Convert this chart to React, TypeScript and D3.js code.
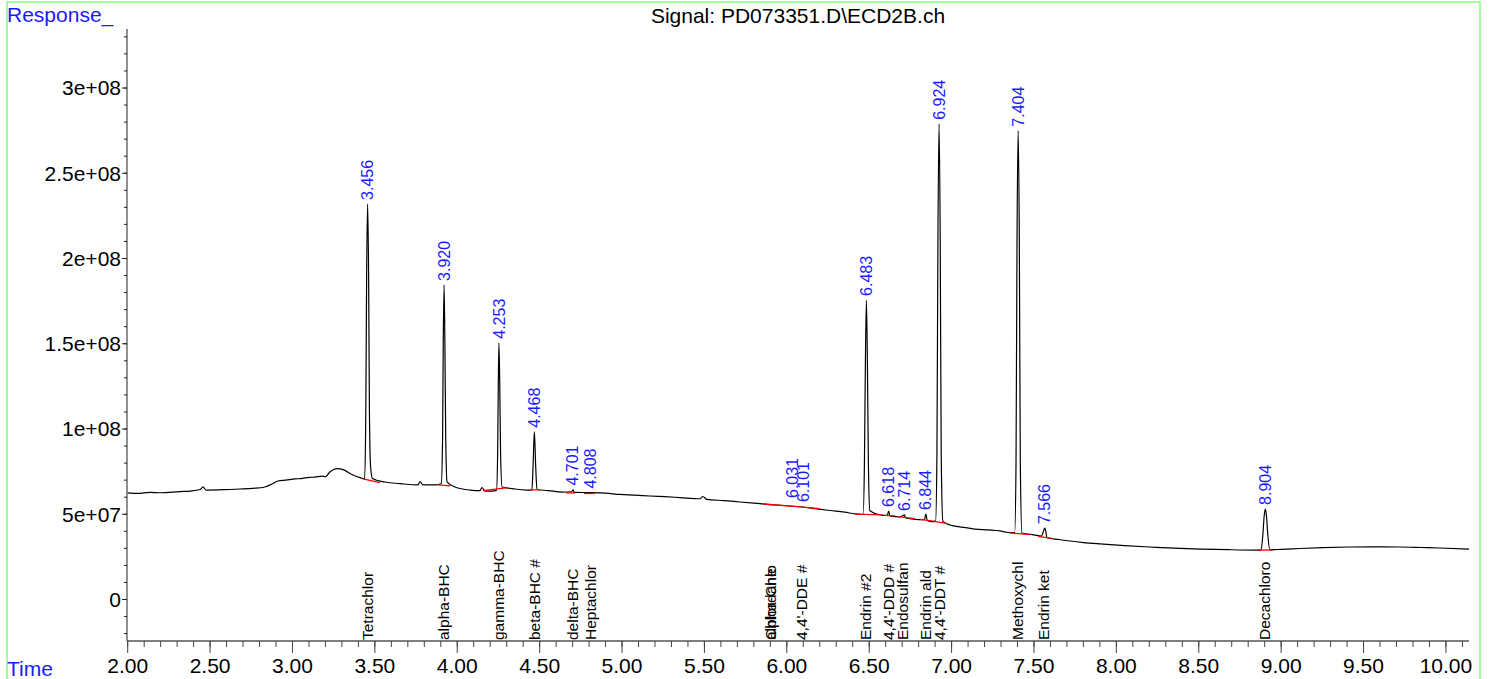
import React, { useRef, useEffect } from 'react';
import * as d3 from 'd3';

const WIDTH = 1489;
const HEIGHT = 679;
const FONT = '"Liberation Sans", Arial, sans-serif';

// detector trace: [retention time (min), response]
const signal: [number, number][] = [
  [2.0, 6.25e7], [2.06, 6.22e7], [2.135, 6.28e7], [2.2, 6.26e7], [2.317, 6.33e7], [2.38, 6.36e7],
  [2.439, 6.45e7], [2.457, 6.6e7], [2.475, 6.42e7], [2.58, 6.44e7], [2.681, 6.48e7], [2.76, 6.52e7],
  [2.833, 6.6e7], [2.876, 6.77e7], [2.912, 6.95e7], [2.96, 7.0e7], [3.015, 7.07e7], [3.06, 7.1e7],
  [3.1, 7.16e7], [3.137, 7.18e7], [3.179, 7.24e7], [3.2, 7.2e7], [3.227, 7.48e7], [3.27, 7.68e7],
  [3.312, 7.6e7], [3.361, 7.33e7], [3.415, 7.13e7],
  // 3.456
  [3.438, 7.08e7], [3.445, 1.1e8], [3.45, 1.9e8], [3.456, 2.32e8], [3.462, 1.9e8], [3.467, 1.1e8],
  [3.474, 7.8e7], [3.485, 7.1e7],
  [3.561, 6.89e7], [3.652, 6.8e7], [3.762, 6.72e7], [3.774, 6.92e7], [3.792, 6.72e7], [3.871, 6.72e7],
  // 3.920
  [3.903, 6.8e7], [3.911, 9.5e7], [3.915, 1.5e8], [3.92, 1.845e8], [3.925, 1.5e8], [3.93, 9.5e7],
  [3.938, 6.9e7],
  [3.986, 6.6e7], [4.078, 6.42e7], [4.138, 6.39e7], [4.15, 6.57e7], [4.168, 6.36e7], [4.21, 6.36e7],
  // 4.253
  [4.238, 6.4e7], [4.245, 8.5e7], [4.249, 1.25e8], [4.253, 1.506e8], [4.258, 1.25e8], [4.263, 8.5e7],
  [4.272, 6.6e7],
  [4.35, 6.48e7], [4.417, 6.42e7],
  // 4.468
  [4.453, 6.42e7], [4.46, 7.8e7], [4.468, 9.84e7], [4.476, 7.8e7], [4.484, 6.45e7],
  [4.551, 6.39e7], [4.636, 6.3e7], [4.695, 6.32e7], [4.702, 6.45e7], [4.71, 6.28e7], [4.808, 6.27e7],
  [4.9, 6.24e7], [4.987, 6.16e7], [5.08, 6.12e7], [5.169, 6.07e7], [5.26, 6.03e7], [5.351, 5.98e7],
  [5.473, 5.91e7], [5.491, 6.04e7], [5.515, 5.87e7], [5.62, 5.8e7],
  [5.715, 5.72e7], [5.8, 5.65e7], [5.898, 5.57e7], [6.0, 5.5e7], [6.08, 5.44e7], [6.17, 5.33e7],
  [6.262, 5.22e7], [6.35, 5.12e7], [6.432, 5.01e7],
  // 6.483
  [6.463, 5.0e7], [6.471, 8.0e7], [6.477, 1.4e8], [6.483, 1.755e8], [6.489, 1.4e8], [6.495, 8.0e7],
  [6.504, 5.2e7],
  [6.566, 4.96e7], [6.61, 4.93e7], [6.618, 5.19e7], [6.626, 4.9e7], [6.687, 4.84e7], [6.714, 4.96e7],
  [6.722, 4.78e7], [6.796, 4.69e7], [6.835, 4.68e7], [6.844, 5.01e7], [6.852, 4.64e7], [6.88, 4.57e7],
  // 6.924
  [6.903, 4.6e7], [6.911, 8.5e7], [6.917, 2.1e8], [6.924, 2.79e8], [6.931, 2.1e8], [6.937, 8.5e7],
  [6.947, 4.6e7],
  [6.99, 4.37e7], [7.06, 4.25e7], [7.142, 4.13e7], [7.22, 4.08e7], [7.294, 4.02e7], [7.341, 3.93e7],
  // 7.404
  [7.383, 3.92e7], [7.391, 8.0e7], [7.397, 2.1e8], [7.404, 2.75e8], [7.411, 2.1e8], [7.417, 8.0e7],
  [7.427, 3.9e7],
  [7.47, 3.84e7], [7.506, 3.78e7], [7.545, 3.72e7], [7.566, 4.19e7], [7.58, 3.62e7], [7.65, 3.52e7],
  [7.718, 3.43e7], [7.8, 3.34e7], [7.9, 3.26e7], [8.05, 3.16e7],
  [8.203, 3.08e7], [8.35, 3.01e7], [8.507, 2.96e7], [8.68, 2.92e7], [8.84, 2.9e7],
  // 8.904
  [8.878, 2.9e7], [8.889, 3.8e7], [8.897, 4.9e7], [8.904, 5.3e7], [8.911, 4.9e7], [8.919, 3.8e7],
  [8.932, 2.92e7],
  [9.0, 2.94e7], [9.114, 2.99e7], [9.25, 3.04e7], [9.418, 3.08e7], [9.55, 3.09e7], [9.721, 3.08e7],
  [9.85, 3.05e7], [9.963, 3.02e7], [10.14, 2.96e7],
];

// integrated peaks
const peakTimes = [3.456, 3.92, 4.253, 4.468, 4.701, 4.808, 6.031, 6.101, 6.483, 6.618, 6.714, 6.844, 6.924, 7.404, 7.566, 8.904];
const peakLabels = ['3.456', '3.920', '4.253', '4.468', '4.701', '4.808', '6.031', '6.101', '6.483', '6.618', '6.714', '6.844', '6.924', '7.404', '7.566', '8.904'];
const peakApex = [2.32e8, 1.845e8, 1.506e8, 9.84e7, 6.45e7, 6.27e7, 5.72e7, 5.48e7, 1.757e8, 5.19e7, 4.96e7, 5.01e7, 2.79e8, 2.75e8, 4.19e7, 5.31e7];

// integration baselines: [start time, start response, end time, end response]
const baselines: [number, number, number, number][] = [
  [3.428, 7.07e7, 3.531, 6.85e7],
  [3.883, 6.72e7, 3.956, 6.67e7],
  [4.156, 6.38e7, 4.308, 6.56e7],
  [4.441, 6.42e7, 4.501, 6.45e7],
  [4.66, 6.25e7, 4.715, 6.25e7],
  [4.769, 6.22e7, 4.836, 6.22e7],
  [5.86, 5.6e7, 6.06, 5.45e7],
  [6.06, 5.45e7, 6.2, 5.33e7],
  [6.413, 5.01e7, 6.577, 4.96e7],
  [6.589, 4.93e7, 6.656, 4.9e7],
  [6.674, 4.86e7, 6.778, 4.74e7],
  [6.808, 4.7e7, 6.887, 4.6e7],
  [6.893, 4.58e7, 6.978, 4.45e7],
  [7.354, 3.9e7, 7.475, 3.81e7],
  [7.524, 3.7e7, 7.609, 3.58e7],
  [8.859, 2.9e7, 8.95, 2.9e7],
];

// expected compound windows
const compoundNames = ['Tetrachlor', 'alpha-BHC', 'gamma-BHC', 'beta-BHC #', 'delta-BHC', 'Heptachlor', 'alpha-Chlo', 'Chlordane', "4,4'-DDE #", 'Endrin #2', "4,4'-DDD #", 'Endosulfan', 'Endrin ald', "4,4'-DDT #", 'Methoxychl', 'Endrin ket', 'Decachloro'];
const compoundTimes = [3.456, 3.916, 4.25, 4.47, 4.7, 4.81, 5.9, 5.9, 6.09, 6.48, 6.62, 6.7, 6.84, 6.93, 7.4, 7.56, 8.9];

const yTickValues = [0, 5e7, 1e8, 1.5e8, 2e8, 2.5e8, 3e8];
const yTickLabels = ['0', '5e+07', '1e+08', '1.5e+08', '2e+08', '2.5e+08', '3e+08'];
const xTickValues = [2, 2.5, 3, 3.5, 4, 4.5, 5, 5.5, 6, 6.5, 7, 7.5, 8, 8.5, 9, 9.5, 10];
const xTickLabels = ['2.00', '2.50', '3.00', '3.50', '4.00', '4.50', '5.00', '5.50', '6.00', '6.50', '7.00', '7.50', '8.00', '8.50', '9.00', '9.50', '10.00'];

const Chromatogram: React.FC = () => {
  const svgRef = useRef<SVGSVGElement>(null);

  useEffect(() => {
    if (!svgRef.current) return;
    const svg = d3.select(svgRef.current);
    svg.selectAll('*').remove();

    const axisTop = 29;
    const axisBottom = 641;
    const axisLeft = 127;
    const axisRight = 1469;

    const x = d3.scaleLinear().domain([2, 10.14]).range([127.7, axisRight]);
    const y = d3.scaleLinear().domain([0, 3e8]).range([599.5, 88]);

    // frame
    svg.append('rect')
      .attr('x', 7).attr('y', 2)
      .attr('width', 1473).attr('height', 720)
      .attr('fill', 'none')
      .attr('stroke', '#80ff80')
      .attr('stroke-width', 1.5);

    svg.append('text')
      .attr('x', 7).attr('y', 22)
      .attr('fill', '#1a1aff')
      .style('font', `21px ${FONT}`)
      .text('Response_');

    svg.append('text')
      .attr('x', 7).attr('y', 676)
      .attr('fill', '#1a1aff')
      .style('font', `21px ${FONT}`)
      .text('Time');

    svg.append('text')
      .attr('x', 798).attr('y', 23)
      .attr('text-anchor', 'middle')
      .attr('fill', '#000')
      .style('font', `21px ${FONT}`)
      .text('Signal: PD073351.D\\ECD2B.ch');

    // y axis
    const gy = svg.append('g');
    gy.append('line')
      .attr('x1', axisLeft).attr('x2', axisLeft)
      .attr('y1', axisTop).attr('y2', axisBottom)
      .attr('stroke', '#222');
    const minorY = d3.range(-2e7, 3.35e8, 1e7);
    gy.selectAll('.ymin').data(minorY).enter().append('line')
      .attr('x1', axisLeft - 3).attr('x2', axisLeft)
      .attr('y1', d => y(d)).attr('y2', d => y(d))
      .attr('stroke', '#222');
    gy.selectAll('.ymaj').data(yTickValues).enter().append('line')
      .attr('x1', axisLeft - 5).attr('x2', axisLeft)
      .attr('y1', d => y(d)).attr('y2', d => y(d))
      .attr('stroke', '#222');
    gy.selectAll('.ylab').data(yTickValues).enter().append('text')
      .attr('x', axisLeft - 6)
      .attr('y', d => y(d))
      .attr('dy', '0.35em')
      .attr('text-anchor', 'end')
      .style('font', `21px ${FONT}`)
      .text((d, i) => yTickLabels[i]);

    // x axis
    const gx = svg.append('g');
    gx.append('line')
      .attr('x1', axisLeft).attr('x2', axisRight)
      .attr('y1', axisBottom).attr('y2', axisBottom)
      .attr('stroke', '#555')
      .attr('stroke-width', 1.5);
    const minorX = d3.range(2, 10.15, 0.1);
    gx.selectAll('.xmin').data(minorX).enter().append('line')
      .attr('x1', d => x(d)).attr('x2', d => x(d))
      .attr('y1', axisBottom).attr('y2', axisBottom + 6)
      .attr('stroke', '#444');
    gx.selectAll('.xmaj').data(xTickValues).enter().append('line')
      .attr('x1', d => x(d)).attr('x2', d => x(d))
      .attr('y1', axisBottom).attr('y2', axisBottom + 12)
      .attr('stroke', '#444');
    gx.selectAll('.xlab').data(xTickValues).enter().append('text')
      .attr('x', d => x(d))
      .attr('y', 673)
      .attr('text-anchor', 'middle')
      .style('font', `21px ${FONT}`)
      .text((d, i) => xTickLabels[i]);

    // trace
    const line = d3.line<[number, number]>()
      .x(d => x(d[0]))
      .y(d => y(d[1]))
      .curve(d3.curveMonotoneX);
    svg.append('path')
      .datum(signal)
      .attr('d', line)
      .attr('fill', 'none')
      .attr('stroke', '#000')
      .attr('stroke-width', 1.2);

    // integration baselines
    svg.selectAll('.base').data(baselines).enter().append('line')
      .attr('x1', d => x(d[0])).attr('y1', d => y(d[1]))
      .attr('x2', d => x(d[2])).attr('y2', d => y(d[3]))
      .attr('stroke', '#ff0000')
      .attr('stroke-width', 1.3);

    // peak retention time labels
    svg.selectAll('.rt').data(peakTimes).enter().append('text')
      .attr('transform', (d, i) => `translate(${x(d)},${y(peakApex[i]) - 4}) rotate(-90)`)
      .attr('dy', '0.35em')
      .attr('fill', '#1a1aff')
      .style('font', `16px ${FONT}`)
      .text((d, i) => peakLabels[i]);

    // compound names
    svg.selectAll('.name').data(compoundTimes).enter().append('text')
      .attr('transform', d => `translate(${x(d)},${axisBottom - 1}) rotate(-90)`)
      .attr('dy', '0.35em')
      .attr('fill', '#000')
      .style('font', `15.5px ${FONT}`)
      .text((d, i) => compoundNames[i]);
  }, []);

  return (
    <svg
      ref={svgRef}
      width={WIDTH}
      height={HEIGHT}
      style={{ position: 'absolute', left: 0, top: 0, background: '#fff' }}
    />
  );
};

export default function App() {
  return <Chromatogram />;
}
